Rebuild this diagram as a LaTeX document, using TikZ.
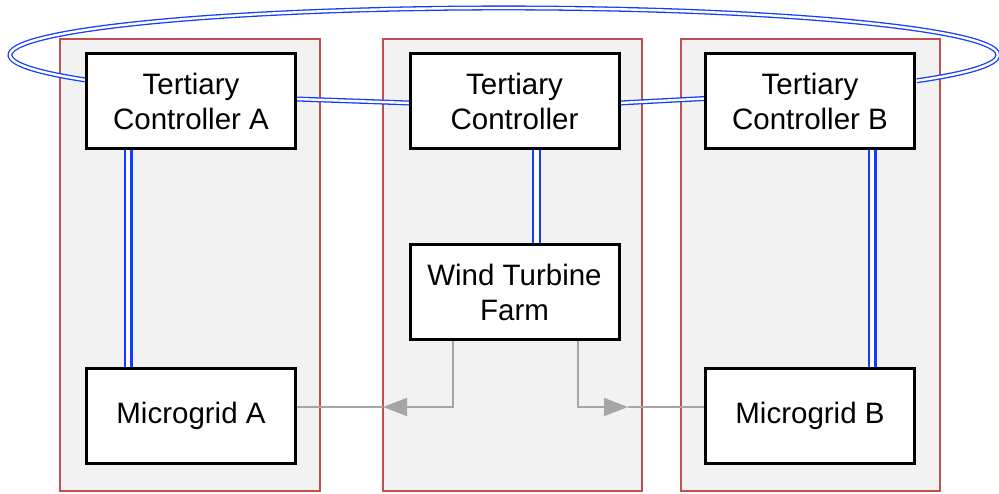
\documentclass[tikz,border=0pt]{standalone}
\usepackage{fontspec}
\setmainfont{Liberation Sans}
\usetikzlibrary{arrows.meta}
\definecolor{panelred}{RGB}{192,80,77}
\definecolor{panelgray}{RGB}{242,242,242}
\definecolor{linkblue}{RGB}{20,60,255}
\definecolor{arrowgray}{RGB}{166,166,166}
\tikzset{
  panel/.style={draw=panelred, fill=panelgray, line width=1.2pt},
  box/.style={draw=black, fill=white, line width=2pt, rectangle, minimum width=208pt, minimum height=94pt, inner sep=0pt, align=center, font=\fontsize{29.5}{35}\selectfont},
  vlink/.style={draw=linkblue, line width=2.2pt, double=white, double distance=4.6pt},
  hlink/.style={draw=linkblue, line width=1.3pt, double=white, double distance=2.4pt},
  flow/.style={draw=arrowgray, line width=1.6pt},
  flowtip/.style={-{Triangle[length=24pt,width=18pt]}}
}
\begin{document}
\begin{tikzpicture}[x=1pt,y=1pt]
\useasboundingbox (0,0) rectangle (999,-493);
% panels
\draw[panel] (60,-39) rectangle (320,-491);
\draw[panel] (383,-39) rectangle (642,-491);
\draw[panel] (681,-39) rectangle (940,-491);
% nodes
\node[box] (TCA) at (191,-101) {Tertiary\\Controller A};
\node[box] (TC)  at (514.5,-101) {Tertiary\\Controller};
\node[box] (TCB) at (810,-101) {Tertiary\\Controller B};
\node[box] (WTF) at (514.5,-292) {Wind Turbine\\Farm};
\node[box] (MGA) at (191,-416) {Microgrid A};
\node[box] (MGB) at (810,-416) {Microgrid B};
% blue links
\draw[hlink] ([yshift=21pt]TCA.west) arc[start angle=212.2, end angle=-33.3, x radius=494pt, y radius=47pt];
\draw[hlink] ([yshift=2pt]TCA.east) -- ([yshift=-2pt]TC.west);
\draw[hlink] ([yshift=-2pt]TC.east) -- ([yshift=2.5pt]TCB.west);
\draw[vlink] ([xshift=-63pt]TCA.south) -- ([xshift=-63pt]MGA.north);
\draw[vlink] ([xshift=22pt]TC.south) -- ([xshift=22pt]WTF.north);
\draw[vlink] ([xshift=62pt]TCB.south) -- ([xshift=62pt]MGB.north);
% gray flows
\coordinate (tipA) at (383,-407);
\coordinate (tipB) at (628,-407);
\draw[flow,flowtip,arrowgray] ([xshift=-61.5pt]WTF.south) |- (tipA);
\draw[flow] (tipA) -- (MGA.east |- tipA);
\draw[flow,flowtip,arrowgray] ([xshift=63.5pt]WTF.south) |- (tipB);
\draw[flow] (tipB) -- (MGB.west |- tipB);
% redraw node borders on top
\foreach \n in {TCA,TC,TCB,WTF,MGA,MGB}{
  \draw[black, line width=2pt] (\n.south west) rectangle (\n.north east);
}
\end{tikzpicture}
\end{document}
